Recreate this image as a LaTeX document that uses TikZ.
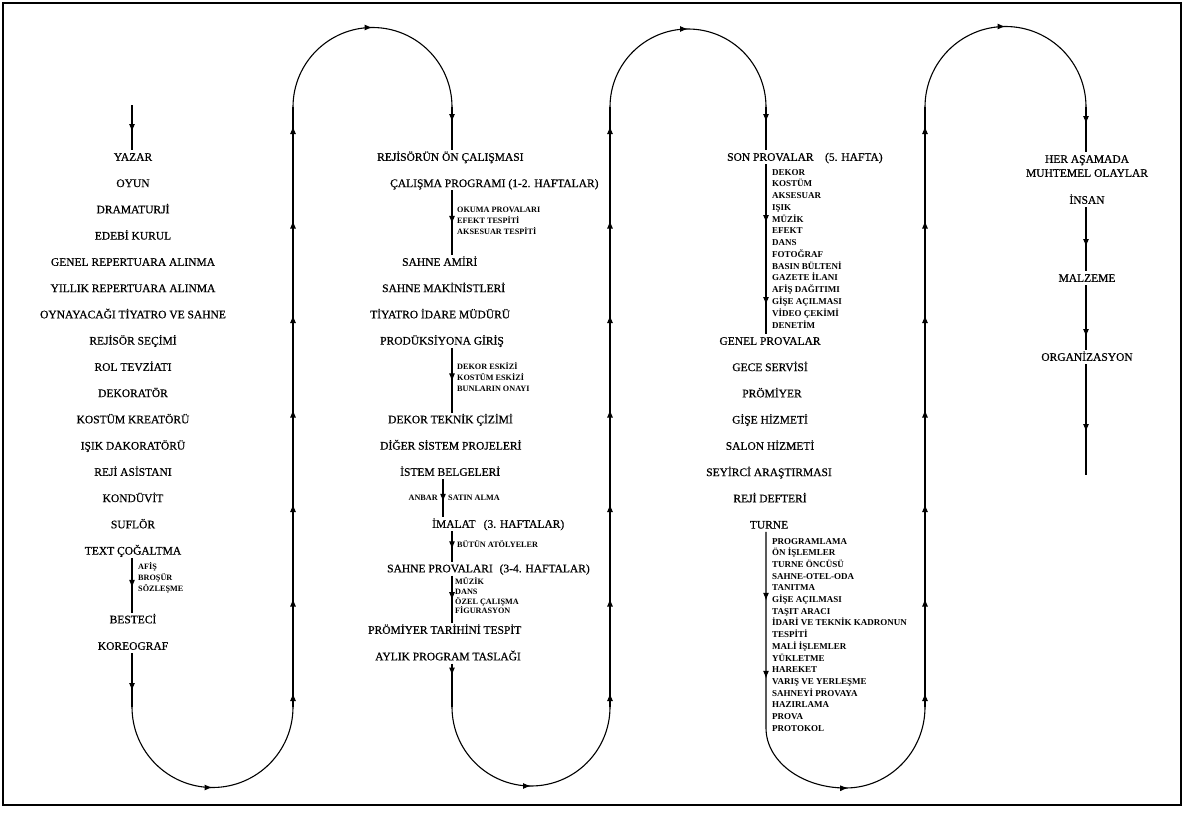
\documentclass[tikz,border=0pt]{standalone}
\usepackage{fontspec}
\setmainfont{Liberation Serif}
\newfontfamily\heavyrm{Liberation Serif}[FakeBold=0.6]
\usetikzlibrary{arrows.meta,decorations.markings}
\newcommand\mainsz{\fontsize{11.5}{13}\selectfont\heavyrm}
\newcommand\subsz{\fontsize{8.2}{9}\selectfont\bfseries}
\newcommand\subszc{\fontsize{9}{10}\selectfont\bfseries}
\tikzset{
  mytip/.tip={Latex[length=8pt,width=6pt]},
  flow/.style={line width=1.1pt},
  arrat/.style={postaction={decorate,decoration={markings,mark=at position #1 with {\arrow{mytip}}}}},
  uparr/.style={postaction={decorate,decoration={markings,mark=between positions 14pt and 590pt step 94.5pt with {\arrow{mytip}}}}},
  mainlbl/.style={font=\mainsz, inner xsep=0pt, inner ysep=3pt, text height=7.6pt, text depth=0pt},
  sublbl/.style={font=\subsz, inner sep=0pt, text height=5.6pt, text depth=0pt, anchor=west},
  subc/.style={font=\subszc, inner sep=0pt, text height=6pt, text depth=0pt, anchor=west},
}
\begin{document}
\begin{tikzpicture}[x=1pt,y=1pt]
\useasboundingbox (0,0) rectangle (1183,-816);
\draw[line width=1.5pt] (3,-3) rectangle (1181,-805);
% axes
\coordinate (ax1) at (132,0);
\coordinate (ax2) at (452,0);
\coordinate (ax2b) at (443,0);
\coordinate (ax3) at (766,0);
\coordinate (ax4) at (1086,0);
% turning points
\coordinate (st) at (132,-105);
\coordinate (b1l) at (132,-707);
\coordinate (b1r) at (293,-707);
\coordinate (t1l) at (293,-107);
\coordinate (t1r) at (452,-107);
\coordinate (b2l) at (452,-707);
\coordinate (b2r) at (610,-707);
\coordinate (t2l) at (610,-107);
\coordinate (t2r) at (766,-107);
\coordinate (b3l) at (766,-728);
\coordinate (b3r) at (925,-707);
\coordinate (t3l) at (925,-107);
\coordinate (t3r) at (1086,-107);
\coordinate (endp) at (1086,-475);

% ---------- column 1 ----------
\foreach \t [count=\i from 0] in {YAZAR,OYUN,DRAMATURJİ,EDEBİ KURUL,GENEL REPERTUARA ALINMA,YILLIK REPERTUARA ALINMA,OYNAYACAĞI TİYATRO VE SAHNE,REJİSÖR SEÇİMİ,ROL TEVZİATI,DEKORATÖR,KOSTÜM KREATÖRÜ,IŞIK DAKORATÖRÜ,REJİ ASİSTANI,KONDÜVİT,SUFLÖR,TEXT ÇOĞALTMA}
  \node[mainlbl] (a\i) at (133,{-157-26.25*\i}) {\t};
\node[mainlbl] (bes) at (133,-619.5) {BESTECİ};
\node[mainlbl] (kor) at (133,-646) {KOREOGRAF};
\foreach \t [count=\i from 0] in {AFİŞ,BROŞÜR,SÖZLEŞME}
  \node[sublbl] (la\i) at (138,{-567-11*\i}) {\t};

\draw[flow,arrat=0.6] (st) -- (a0.north -| ax1);
\draw[flow,arrat=0.55] (a15.south -| ax1) -- (bes.north -| ax1);
\draw[flow,arrat=38pt] (kor.south -| ax1) -- (b1l);
\draw[flow,arrat=0.5] (b1l) arc[start angle=180,end angle=360,radius=80.5];
\draw[flow,uparr] (b1r) -- (t1l);
\draw[flow,arrat=0.5] (t1l) arc[start angle=180,end angle=0,radius=79.5];

% ---------- column 2 ----------
\node[mainlbl,anchor=west] (rej) at (377,-157) {REJİSÖRÜN ÖN ÇALIŞMASI};
\node[mainlbl,anchor=west] (cal) at (390,-183.25) {ÇALIŞMA PROGRAMI (1-2. HAFTALAR)};
\foreach \t [count=\i from 0] in {OKUMA PROVALARI,EFEKT TESPİTİ,AKSESUAR TESPİTİ}
  \node[sublbl] (lb\i) at (457,{-209.5-11*\i}) {\t};
\node[mainlbl,anchor=west] (sam) at (402,-262) {SAHNE AMİRİ};
\node[mainlbl,anchor=west] (mak) at (382,-288.25) {SAHNE MAKİNİSTLERİ};
\node[mainlbl,anchor=west] (tiy) at (370,-314.5) {TİYATRO İDARE MÜDÜRÜ};
\node[mainlbl,anchor=west] (pro) at (380,-340.75) {PRODÜKSİYONA GİRİŞ};
\foreach \t [count=\i from 0] in {DEKOR ESKİZİ,KOSTÜM ESKİZİ,BUNLARIN ONAYI}
  \node[sublbl] (lc\i) at (457,{-367-11*\i}) {\t};
\node[mainlbl,anchor=west] (dtc) at (388,-419.5) {DEKOR TEKNİK ÇİZİMİ};
\node[mainlbl,anchor=west] (dig) at (380,-445.75) {DİĞER SİSTEM PROJELERİ};
\node[mainlbl,anchor=west] (ist) at (400,-472) {İSTEM BELGELERİ};
\node[sublbl,anchor=east] (anb) at (438,-498) {ANBAR};
\node[sublbl] (sat) at (448,-498) {SATIN ALMA};
\node[mainlbl,anchor=west] (ima) at (432,-524) {İMALAT\hspace{0.7em}(3. HAFTALAR)};
\node[sublbl] (but) at (457,-545) {BÜTÜN ATÖLYELER};
\node[mainlbl,anchor=west] (spr) at (387,-568.5) {SAHNE PROVALARI\hspace{0.6em}(3-4. HAFTALAR)};
\foreach \t [count=\i from 0] in {MÜZİK,DANS,ÖZEL ÇALIŞMA,FİGURASYON}
  \node[sublbl] (ld\i) at (455,{-582-9.6*\i}) {\t};
\node[mainlbl,anchor=west] (prt) at (368,-630) {PRÖMİYER TARİHİNİ TESPİT};
\node[mainlbl,anchor=west] (ayl) at (375,-656.5) {AYLIK PROGRAM TASLAĞI};

\draw[flow,arrat=15pt] (t1r) -- (rej.north -| ax2);
\draw[flow,arrat=0.52] (cal.south -| ax2) -- (sam.north -| ax2);
\draw[flow,arrat=0.52] (pro.south -| ax2) -- (dtc.north -| ax2);
\draw[flow,arrat=0.6] (ist.south -| ax2b) -- (ima.north -| ax2b);
\draw[flow,arrat=0.6] (ima.south -| ax2) -- (spr.north -| ax2);
\draw[flow,arrat=0.52] (spr.south -| ax2) -- (prt.north -| ax2);
\draw[flow,arrat=12pt] (ayl.south -| ax2) -- (b2l);
\draw[flow,arrat=0.5] (b2l) arc[start angle=180,end angle=360,radius=79];
\draw[flow,uparr] (b2r) -- (t2l);
\draw[flow,arrat=0.5] (t2l) arc[start angle=180,end angle=0,radius=78];

% ---------- column 3 ----------
\node[mainlbl,anchor=west] (son) at (727,-157) {SON PROVALAR\hspace{1em}(5. HAFTA)};
\foreach \t [count=\i from 0] in {DEKOR,KOSTÜM,AKSESUAR,IŞIK,MÜZİK,EFEKT,DANS,FOTOĞRAF,BASIN BÜLTENİ,GAZETE İLANI,AFİŞ DAĞITIMI,GİŞE AÇILMASI,VİDEO ÇEKİMİ,DENETİM}
  \node[subc] (le\i) at (772,{-172-11.77*\i}) {\t};
\node[mainlbl] (gen) at (770,-341) {GENEL PROVALAR};
\node[mainlbl] (gec) at (770,-367.25) {GECE SERVİSİ};
\node[mainlbl] (prm) at (772,-393.5) {PRÖMİYER};
\node[mainlbl] (gis) at (770,-419.75) {GİŞE HİZMETİ};
\node[mainlbl] (sal) at (770,-446) {SALON HİZMETİ};
\node[mainlbl] (sey) at (769,-472.25) {SEYİRCİ ARAŞTIRMASI};
\node[mainlbl] (rdf) at (770,-498.5) {REJİ DEFTERİ};
\node[mainlbl] (tur) at (769,-524.75) {TURNE};
\foreach \t [count=\i from 0] in {PROGRAMLAMA,ÖN İŞLEMLER,TURNE ÖNCÜSÜ,SAHNE-OTEL-ODA,TANITMA,GİŞE AÇILMASI,TAŞIT ARACI,İDARİ VE TEKNİK KADRONUN,TESPİTİ,MALİ İŞLEMLER,YÜKLETME,HAREKET,VARIŞ VE YERLEŞME,SAHNEYİ PROVAYA,HAZIRLAMA,PROVA,PROTOKOL}
  \node[subc] (lf\i) at (772,{-541-11.7*\i}) {\t};

\draw[flow,arrat=15pt] (t2r) -- (son.north -| ax3);
\draw[flow,arrat=59pt,arrat=141pt] (son.south -| ax3) -- (gen.north -| ax3);
\draw[flow,arrat=69pt,arrat=147pt,arrat=309pt] (tur.south -| ax3) -- (b3l)
   arc[start angle=180,end angle=270,x radius=79.5,y radius=60]
   arc[start angle=270,end angle=360,x radius=79.5,y radius=81];
\draw[flow,uparr] (b3r) -- (t3l);
\draw[flow,arrat=0.5] (t3l) arc[start angle=180,end angle=0,radius=80.5];

% ---------- column 4 ----------
\node[mainlbl] (her) at (1087,-159) {HER AŞAMADA};
\node[mainlbl] (muh) at (1087,-173) {MUHTEMEL OLAYLAR};
\node[mainlbl] (ins) at (1087,-200) {İNSAN};
\node[mainlbl] (mal) at (1087,-278) {MALZEME};
\node[mainlbl] (org) at (1087,-357) {ORGANİZASYON};
\draw[flow,arrat=17pt] (t3r) -- (her.north -| ax4);
\draw[flow,arrat=40pt] (ins.south -| ax4) -- (mal.north -| ax4);
\draw[flow,arrat=52pt] (mal.south -| ax4) -- (org.north -| ax4);
\draw[flow,arrat=68pt] (org.south -| ax4) -- (endp);
\end{tikzpicture}
\end{document}
